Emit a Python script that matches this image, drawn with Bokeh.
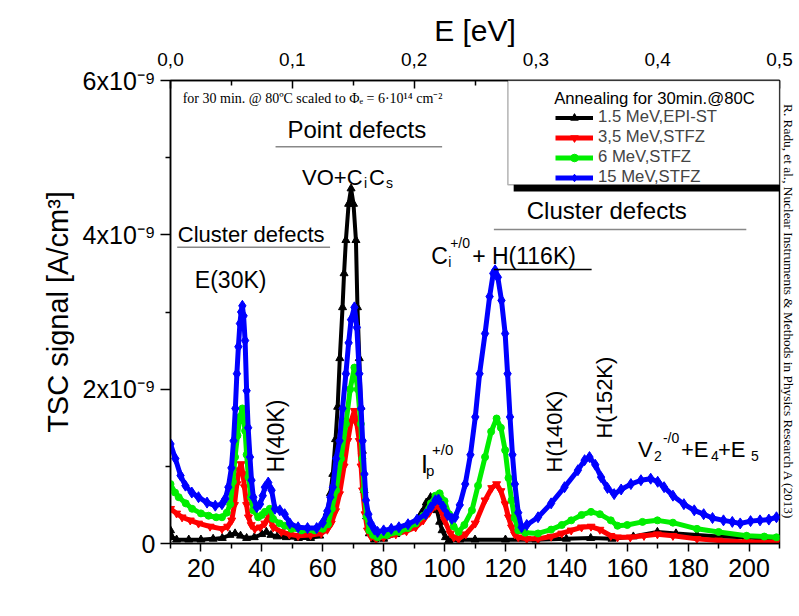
import math
from bokeh.plotting import figure
from bokeh.models import (Range1d, LinearAxis, FixedTicker, CustomJSTickFormatter, Label, Title,
                          BoxAnnotation, Legend, LegendItem, ColumnDataSource)
from bokeh.embed import file_html
from bokeh.resources import INLINE

# ---------------- data (TSC signal in units of 1e-9 A/cm^3) ----------------
temp_epi = [10.0, 10.5, 12.0, 16.0, 20.0, 24.0, 27.0, 29.5, 31.2, 33.0, 35.0, 37.5, 40.0, 41.5, 43.0,
            45.0, 48.0, 52.0, 56.0, 59.0, 60.5, 61.5, 62.5, 63.3, 64.2, 64.9, 65.6, 66.5, 67.0, 67.6,
            68.5, 69.3, 70.1, 70.9, 71.4, 72.0, 72.5, 73.0, 73.6, 74.4, 75.3, 77.0, 80.0, 84.0, 88.0,
            90.5, 92.5, 94.0, 95.4, 96.5, 97.5, 98.4, 99.2, 100.3, 101.4, 105.0, 110.0, 120.0, 130.0,
            140.0, 148.0, 155.0, 162.0, 169.9, 176.0, 182.9, 190.0, 199.2, 205.0, 209.0]
tsc_epi = [0.17, 0.08, 0.05, 0.05, 0.05, 0.06, 0.07, 0.11, 0.13, 0.10, 0.07, 0.08, 0.12, 0.15, 0.11,
           0.09, 0.08, 0.07, 0.07, 0.10, 0.20, 0.40, 0.65, 0.90, 1.35, 1.77, 2.40, 3.06, 3.50, 3.93,
           4.40, 4.60, 4.40, 3.93, 3.06, 2.40, 1.77, 1.20, 0.69, 0.35, 0.13, 0.05, 0.06, 0.12, 0.20,
           0.28, 0.40, 0.53, 0.60, 0.55, 0.43, 0.28, 0.17, 0.08, 0.04, 0.05, 0.05, 0.05, 0.05,
           0.06, 0.07, 0.06, 0.09, 0.15, 0.13, 0.11, 0.09, 0.08, 0.06, 0.05]

temp_35 = [10.0, 12.0, 13.8, 16.5, 19.2, 23.0, 26.9, 28.8, 30.1, 31.0, 31.8, 32.5, 33.2, 33.8, 34.3,
           35.0, 35.6, 36.5, 37.7, 39.5, 41.0, 42.3, 43.0, 43.7, 46.4, 49.0, 51.9, 56.0, 59.5, 61.5,
           62.8, 64.2, 65.5, 67.0, 68.2, 69.3, 70.4, 71.2, 72.0, 72.6, 73.1, 73.9, 74.7, 75.8, 77.5,
           80.0, 84.0, 87.5, 90.5, 93.0, 95.0, 97.0, 98.6, 100.0, 101.9, 103.0, 104.6, 107.0, 110.1,
           113.3, 115.5, 117.1, 118.5, 119.9, 121.0, 122.0, 123.0, 124.2, 127.0, 130.7, 135.0, 138.5,
           141.6, 145.0, 148.1, 151.0, 154.6, 156.8, 161.0, 165.5, 169.9, 175.0, 182.9, 190.0, 199.2, 209.0]
tsc_35 = [0.45, 0.39, 0.34, 0.30, 0.26, 0.22, 0.19, 0.22, 0.30, 0.50, 0.77, 0.95, 1.03, 0.90, 0.73,
          0.50, 0.34, 0.24, 0.19, 0.21, 0.26, 0.36, 0.30, 0.21, 0.15, 0.12, 0.10, 0.11, 0.13, 0.18,
          0.26, 0.42, 0.64, 1.00, 1.33, 1.58, 1.72, 1.55, 1.33, 1.00, 0.69, 0.38, 0.17, 0.09, 0.06,
          0.08, 0.12, 0.16, 0.21, 0.30, 0.40, 0.49, 0.45, 0.30, 0.13, 0.08, 0.06, 0.12, 0.26,
          0.56, 0.72, 0.77, 0.68, 0.51, 0.34, 0.21, 0.12, 0.08, 0.06, 0.06, 0.09, 0.13,
          0.17, 0.21, 0.22, 0.18, 0.10, 0.08, 0.08, 0.10, 0.12, 0.10, 0.06, 0.04, 0.02, 0.02]

temp_6 = [10.0, 11.5, 12.7, 15.0, 17.1, 20.0, 22.5, 25.0, 26.9, 28.5, 29.6, 30.5, 31.2, 32.0, 32.8,
          33.6, 34.5, 35.0, 35.6, 36.4, 37.2, 38.8, 40.0, 41.0, 42.6, 43.7, 45.9, 47.5, 49.7, 53.0,
          57.3, 60.0, 61.7, 63.0, 64.4, 66.0, 67.6, 69.0, 70.4, 71.5, 72.5, 73.0, 73.6, 74.4, 75.3,
          76.5, 78.0, 81.0, 85.0, 88.0, 90.5, 93.0, 95.5, 97.0, 98.4, 100.0, 101.5, 103.0, 104.6,
          106.5, 109.0, 111.0, 113.3, 115.3, 117.1, 118.5, 119.9, 121.0, 122.0, 123.0, 124.2, 126.5,
          130.7, 135.0, 138.5, 141.6, 145.0, 148.1, 151.0, 154.6, 156.8, 160.0, 165.0, 169.9, 175.0,
          182.9, 190.0, 199.2, 205.0, 209.0]
tsc_6 = [0.77, 0.66, 0.60, 0.52, 0.45, 0.39, 0.36, 0.34, 0.34, 0.40, 0.51, 0.80, 1.12, 1.40, 1.64,
         1.75, 1.46, 1.15, 0.86, 0.60, 0.43, 0.34, 0.37, 0.41, 0.45, 0.32, 0.26, 0.23, 0.19, 0.17,
         0.17, 0.19, 0.25, 0.45, 0.69, 1.10, 1.55, 2.00, 2.28, 2.00, 1.55, 1.10, 0.69, 0.35, 0.17,
         0.11, 0.08, 0.11, 0.15, 0.20, 0.26, 0.36, 0.52, 0.62, 0.65, 0.55, 0.38, 0.22, 0.15,
         0.24, 0.43, 0.75, 1.12, 1.45, 1.62, 1.50, 1.21, 0.85, 0.56, 0.33, 0.17, 0.14,
         0.13, 0.18, 0.24, 0.30, 0.37, 0.41, 0.38, 0.30, 0.23, 0.24, 0.28, 0.30, 0.27,
         0.19, 0.15, 0.10, 0.09, 0.08]

temp_15 = [10.0, 11.6, 13.3, 14.9, 17.0, 19.2, 22.0, 24.7, 26.9, 28.0, 29.0, 30.0, 30.7, 31.3, 31.8,
           32.3, 32.8, 33.2, 33.6, 34.0, 34.5, 35.0, 35.5, 36.1, 36.6, 37.2, 38.3, 39.4, 40.3, 41.0,
           42.1, 43.2, 44.3, 45.9, 47.5, 49.2, 51.9, 55.0, 58.0, 60.0, 61.5, 62.5, 63.3, 64.4, 65.5,
           66.5, 67.6, 68.5, 69.3, 70.4, 71.2, 72.0, 72.6, 73.1, 73.7, 74.2, 75.0, 75.8, 77.0, 78.0,
           80.0, 82.5, 85.0, 88.0, 91.0, 93.8, 95.5, 97.0, 98.0, 99.5, 101.0, 102.4, 103.5, 105.0,
           106.8, 108.5, 110.1, 111.5, 113.3, 114.8, 116.0, 116.6, 117.5, 118.7, 119.9, 120.7, 121.5,
           122.3, 123.1, 124.2, 125.3, 127.0, 130.7, 135.0, 139.4, 143.8, 146.0, 147.6, 149.5, 151.4,
           153.5, 155.7, 158.0, 161.2, 164.5, 167.7, 170.0, 172.1, 175.0, 178.6, 182.0, 185.1, 188.0,
           191.6, 194.5, 197.1, 200.5, 203.6, 206.5, 209.0]
tsc_15 = [1.29, 1.10, 0.88, 0.75, 0.66, 0.60, 0.53, 0.49, 0.51, 0.58, 0.73, 0.98, 1.33, 1.75, 2.20,
          2.55, 2.85, 3.00, 3.08, 2.95, 2.63, 1.98, 1.50, 1.12, 0.82, 0.60, 0.47, 0.51, 0.62, 0.73,
          0.79, 0.69, 0.45, 0.43, 0.38, 0.26, 0.21, 0.20, 0.20, 0.27, 0.42, 0.60, 0.73, 1.10, 1.33,
          1.75, 2.20, 2.60, 2.90, 3.06, 2.80, 2.20, 1.75, 1.33, 0.90, 0.56, 0.38, 0.26, 0.18, 0.15,
          0.17, 0.19, 0.21, 0.25, 0.31, 0.38, 0.47, 0.56, 0.57, 0.48, 0.37, 0.32, 0.34, 0.50,
          0.77, 1.15, 1.64, 2.20, 2.72, 3.20, 3.50, 3.54, 3.45, 3.15, 2.72, 2.20, 1.64,
          1.15, 0.77, 0.40, 0.21, 0.24, 0.34, 0.52, 0.73, 0.95, 1.08, 1.12, 1.02, 0.86,
          0.72, 0.64, 0.70, 0.77, 0.82, 0.84, 0.80, 0.73, 0.62, 0.51, 0.43, 0.38, 0.33,
          0.30, 0.28, 0.26, 0.29, 0.30, 0.31, 0.34]

series_names = ["1.5 MeV,EPI-ST", "3,5 MeV,STFZ", "6 MeV,STFZ", "15 MeV,STFZ"]
temp_ticks = [20, 40, 60, 80, 100, 120, 140, 160, 180, 200]
temp_minor = [10, 30, 50, 70, 90, 110, 130, 150, 170, 190, 210]
tsc_ticks = [0, 2, 4, 6]
tsc_minor = [1, 3, 5]
tsc_tick_labels = {0: "0", 2: "2x10\u207b\u2079", 4: "4x10\u207b\u2079", 6: "6x10\u207b\u2079"}
energy_ticks = [0.0, 0.1, 0.2, 0.3, 0.4, 0.5]
energy_minor = [0.05, 0.15, 0.25, 0.35, 0.45]

SANS = "Liberation Sans"
SERIF = "Liberation Serif"

p = figure(width=799, height=614, output_backend="svg", toolbar_location=None,
           x_range=Range1d(10, 210), y_range=Range1d(0, 6),
           min_border_left=170, min_border_right=18, min_border_top=80, min_border_bottom=71)
p.extra_x_ranges = {"energy": Range1d(0, 0.5)}
p.xgrid.visible = False
p.ygrid.visible = False
p.outline_line_color = "black"
p.outline_line_width = 1.5
p.background_fill_color = "white"
p.border_fill_color = "white"

# bottom axis
xa = p.xaxis[0]
xa.ticker = FixedTicker(ticks=temp_ticks, minor_ticks=temp_minor)
xa.major_tick_out = 8
xa.major_tick_in = 0
xa.minor_tick_out = 5
xa.minor_tick_in = 0
xa.major_label_standoff = 7
xa.major_label_text_font = SANS
xa.major_label_text_font_size = "25px"
xa.major_label_text_color = "black"
xa.axis_line_width = 1.5
xa.major_tick_line_width = 1.5
xa.minor_tick_line_width = 1.5

# left axis
ya = p.yaxis[0]
ya.ticker = FixedTicker(ticks=tsc_ticks, minor_ticks=tsc_minor)
ya.major_label_overrides = tsc_tick_labels
ya.major_tick_out = 10
ya.major_tick_in = 0
ya.minor_tick_out = 5
ya.minor_tick_in = 0
ya.major_label_standoff = 5
ya.major_label_text_font = SANS
ya.major_label_text_font_size = "25px"
ya.major_label_text_color = "black"
ya.axis_line_width = 1.5
ya.major_tick_line_width = 1.5
ya.minor_tick_line_width = 1.5

# y-axis title (placed as a side title so that it can sit a bit above centre)
p.add_layout(Title(text="TSC signal [A/cm\u00b3]", align="center", offset=22, standoff=12,
                   text_font=SANS, text_font_size="29px", text_font_style="normal",
                   text_color="black"), "left")

# top axis (energy)
ta = LinearAxis(x_range_name="energy",
                ticker=FixedTicker(ticks=energy_ticks, minor_ticks=energy_minor),
                formatter=CustomJSTickFormatter(code="return tick.toFixed(1).replace('.', ',');"),
                axis_label="E [eV]")
ta.major_tick_in = 8
ta.major_tick_out = 0
ta.minor_tick_in = 5
ta.minor_tick_out = 0
ta.major_label_standoff = 15
ta.major_label_text_font = SANS
ta.major_label_text_font_size = "19px"
ta.major_label_text_color = "black"
ta.axis_label_text_font = SANS
ta.axis_label_text_font_size = "30px"
ta.axis_label_text_font_style = "normal"
ta.axis_label_text_color = "black"
ta.axis_label_standoff = 3
ta.axis_line_width = 1.5
ta.major_tick_line_width = 1.5
ta.minor_tick_line_width = 1.5
p.add_layout(ta, "above")

# citation on the right margin
p.add_layout(Title(text="R. Radu, et al., Nuclear Instruments & Methods in Physics Research A (2013)",
                   align="center", text_font=SERIF, text_font_size="13.3px",
                   text_font_style="normal", text_color="black", standoff=3), "right")

# ---------------- series ----------------
series = [
    (temp_epi, tsc_epi, "black", "triangle", 8, 4),
    (temp_35, tsc_35, "red", "inverted_triangle", 8, 5),
    (temp_6, tsc_6, "#00ee00", "circle", 7, 5),
    (temp_15, tsc_15, "blue", "diamond", 11, 5),
]
items = []
for (t, v, color, marker, size, lw), name in zip(series, series_names):
    src = ColumnDataSource(dict(t=t, v=v))
    ln = p.line("t", "v", source=src, line_color=color, line_width=lw)
    sc = p.scatter("t", "v", source=src, marker=marker, size=size,
                   fill_color=color, line_color=color)
    items.append(LegendItem(label=name, renderers=[ln, sc]))

# ---------------- legend box with shadow ----------------
p.add_layout(BoxAnnotation(left=122.7, right=211.2, top=5.90, bottom=4.56,
                           fill_color="black", fill_alpha=1.0, line_alpha=0))
p.add_layout(BoxAnnotation(left=120.8, right=210, top=6.0, bottom=4.65,
                           fill_color="white", fill_alpha=1.0, line_color="black", line_width=1.5))
legend = Legend(items=items, location=(382, 353),
                border_line_alpha=0, background_fill_alpha=0, padding=3, spacing=0, margin=0,
                glyph_width=38, glyph_height=19, label_height=19, label_standoff=5,
                label_text_font=SANS, label_text_font_size="16.7px")
p.add_layout(legend)

# ---------------- annotations ----------------
def lab(text, x, y, size, dx=0, dy=0, angle=0.0, font=SANS, align="left",
        baseline="alphabetic", fix=8):
    if angle == 0.0:
        dy += fix
    else:
        dx -= fix
    p.add_layout(Label(x=x, y=y, x_offset=dx, y_offset=dy, text=text, angle=angle,
                       text_font=font, text_font_size=f"{size}px", text_color="black",
                       text_align=align, text_baseline=baseline))

lab("Annealing for 30min.@80C", 136.0, 5.685, 16.7, fix=6)
lab("for 30 min. @ 80ºC scaled to Φ\u2091 = 6·10¹⁴ cm⁻²", 14.0, 5.70, 14, font=SERIF, fix=5)
lab("Point defects", 48.4, 5.265, 24)
lab("VO+C", 53.2, 4.64, 22)
lab("i", 53.2, 4.64, 14, dx=62, dy=-6)
lab("C", 53.2, 4.64, 22, dx=67)
lab("s", 53.2, 4.64, 14, dx=84, dy=-6)
lab("Cluster defects", 12.4, 3.90, 22)
lab("E(30K)", 18.0, 3.31, 23)
lab("H(40K)", 47.2, 0.92, 23, angle=math.pi / 2)
lab("C", 95.6, 3.62, 23)
lab("i", 95.6, 3.62, 14, dx=17, dy=-6)
lab("+/0", 95.6, 3.62, 14, dx=19, dy=13)
lab("+ H(116K)", 95.6, 3.62, 23, dx=41)
lab("Cluster defects", 127.0, 4.21, 24)
lab("H(140K)", 138.7, 0.92, 22, angle=math.pi / 2)
lab("H(152K)", 155.3, 1.36, 22, angle=math.pi / 2)
lab("I", 92.3, 0.93, 25)
lab("p", 92.3, 0.93, 15, dx=5, dy=-7)
lab("+/0", 92.3, 0.93, 15, dx=11, dy=14)
lab("V", 163.5, 1.11, 22)
lab("2", 163.5, 1.11, 14, dx=16, dy=-6)
lab("-/0", 163.5, 1.11, 14, dx=25, dy=12)
lab("+E", 163.5, 1.11, 22, dx=43)
lab("4", 163.5, 1.11, 14, dx=73, dy=-6)
lab("+E", 163.5, 1.11, 22, dx=80)
lab("5", 163.5, 1.11, 14, dx=113, dy=-6)
# x-axis title
lab("Temperature [K]", 113.4, -0.777, 29, align="center", fix=10)

# underlines of annotation headings
ul_x0 = [44.5, 12.2, 116.2, 116.2]
ul_x1 = [99.2, 62.4, 199.1, 148.3]
ul_y = [5.14, 3.84, 4.07, 3.55]
ul_col = ["#888888", "#888888", "#888888", "black"]
p.segment(x0=ul_x0, x1=ul_x1, y0=ul_y, y1=ul_y, line_color=ul_col, line_width=1.5)

open("out.html", "w").write(file_html(p, INLINE))
